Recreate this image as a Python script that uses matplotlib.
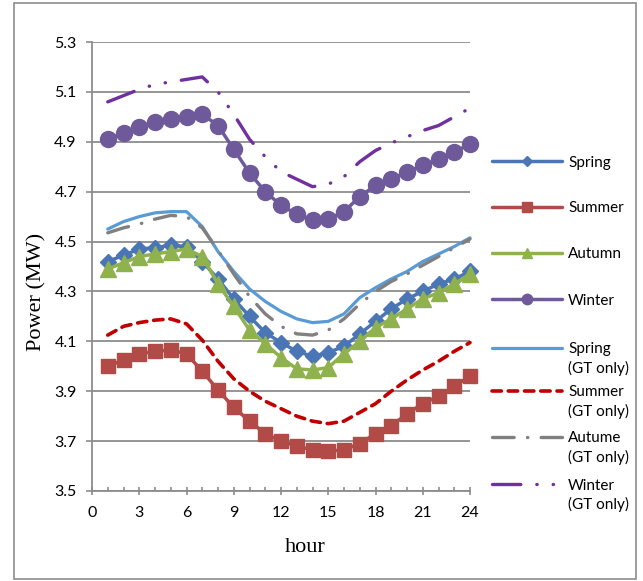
import numpy as np
import matplotlib.pyplot as plt
from matplotlib.lines import Line2D
from matplotlib.patches import Rectangle


#%% Datos
hours = np.arange(1, 25)

spring = [4.42, 4.445, 4.47, 4.475, 4.485, 4.48, 4.42, 4.35, 4.27, 4.20, 4.135, 4.095,
          4.06, 4.04, 4.055, 4.08, 4.13, 4.18, 4.23, 4.27, 4.30, 4.33, 4.35, 4.38]
summer = [4.00, 4.025, 4.05, 4.06, 4.065, 4.05, 3.98, 3.905, 3.835, 3.78, 3.73, 3.70,
          3.68, 3.665, 3.66, 3.665, 3.69, 3.73, 3.76, 3.81, 3.85, 3.88, 3.92, 3.96]
autumn = [4.39, 4.415, 4.44, 4.45, 4.46, 4.47, 4.44, 4.33, 4.24, 4.145, 4.09, 4.035,
          3.99, 3.985, 3.995, 4.05, 4.10, 4.155, 4.19, 4.23, 4.27, 4.295, 4.33, 4.37]
winter = [4.91, 4.935, 4.96, 4.98, 4.99, 5.00, 5.01, 4.965, 4.87, 4.775, 4.70, 4.645,
          4.61, 4.585, 4.59, 4.62, 4.68, 4.725, 4.75, 4.78, 4.805, 4.83, 4.86, 4.89]

spring_gt = [4.55, 4.58, 4.60, 4.615, 4.62, 4.62, 4.56, 4.46, 4.38, 4.31, 4.26, 4.22,
             4.19, 4.175, 4.18, 4.21, 4.275, 4.315, 4.35, 4.38, 4.42, 4.45, 4.48, 4.515]
summer_gt = [4.125, 4.16, 4.175, 4.185, 4.19, 4.17, 4.105, 4.02, 3.95, 3.90, 3.86, 3.83,
             3.80, 3.78, 3.77, 3.78, 3.815, 3.85, 3.90, 3.945, 3.985, 4.02, 4.06, 4.095]
autumn_gt = [4.535, 4.555, 4.57, 4.59, 4.605, 4.60, 4.555, 4.465, 4.37, 4.28, 4.21, 4.16,
             4.13, 4.125, 4.145, 4.19, 4.25, 4.30, 4.34, 4.37, 4.405, 4.44, 4.475, 4.51]
winter_gt = [5.06, 5.085, 5.11, 5.13, 5.14, 5.15, 5.16, 5.10, 5.01, 4.91, 4.84, 4.78,
             4.75, 4.72, 4.73, 4.76, 4.82, 4.865, 4.895, 4.92, 4.945, 4.965, 5.00, 5.035]

x_ticks = list(range(0, 25, 3))
y_ticks = [3.5, 3.7, 3.9, 4.1, 4.3, 4.5, 4.7, 4.9, 5.1, 5.3]


#%% Estilos
W, H = 643, 581
GRIS = "#8C8C8C"
FUENTE = ["Lato", "DejaVu Sans"]
SERIF = ["Liberation Serif", "DejaVu Serif"]

estilos = [
    ("Spring", spring, dict(color="#4A76B5", lw=2.5, marker="D", ms=8.5, mec="#4A76B5")),
    ("Summer", summer, dict(color="#B24A47", lw=2.5, marker="s", ms=10, mec="#B24A47")),
    ("Autumn", autumn, dict(color="#8FB24F", lw=2.5, marker="^", ms=11, mec="#8FB24F")),
    ("Winter", winter, dict(color="#6E5A9A", lw=2.5, marker="o", ms=11.5, mec="#6E5A9A")),
    ("Spring\n(GT only)", spring_gt, dict(color="#5B9BD5", lw=2.3, ls="-")),
    ("Summer\n(GT only)", summer_gt, dict(color="#C00000", lw=2.6, dashes=(2.6, 1.9))),
    ("Autume\n(GT only)", autumn_gt, dict(color="#808080", lw=2.4, dashes=(6.5, 4.0, 0.1, 4.0))),
    ("Winter\n(GT only)", winter_gt, dict(color="#7030A0", lw=2.4, dashes=(8.5, 4.8, 0.1, 4.8, 0.1, 4.8))),
]


#%% Grafico
fig = plt.figure(figsize=(W / 100, H / 100), dpi=100)
ax = fig.add_axes([92 / W, 1 - 491 / H, (470 - 92) / W, (491 - 42) / H])

for nombre, valores, kw in estilos:
    ax.plot(hours, valores, solid_capstyle="round", dash_capstyle="round",
            clip_on=False, **kw)

ax.set_xlim(0, 24)
ax.set_ylim(3.5, 5.3)
ax.set_xticks(x_ticks)
ax.set_xticks(range(0, 25), minor=True)
ax.set_yticks(y_ticks)
ax.set_yticklabels(["{:.1f}".format(v) for v in y_ticks])
ax.grid(axis="y", color=GRIS, lw=1.3)
ax.set_axisbelow(True)
for lado in ["top", "right"]:
    ax.spines[lado].set_visible(False)
for lado in ["left", "bottom"]:
    ax.spines[lado].set_color(GRIS)
    ax.spines[lado].set_linewidth(1.3)
ax.tick_params(axis="x", which="major", direction="inout", length=6, color=GRIS, width=1.2,
               pad=8, labelsize=11.5)
ax.tick_params(axis="x", which="minor", direction="in", length=3, color=GRIS, width=1.2)
ax.tick_params(axis="y", direction="out", length=4, color=GRIS, width=1.2, pad=7,
               labelsize=11.5)
for t in ax.get_xticklabels() + ax.get_yticklabels():
    t.set_family(FUENTE)

fig.text(37 / W, 1 - 292 / H, "Power (MW)", rotation=90, ha="center", va="center",
         fontsize=16, family=SERIF)
fig.text(305 / W, 1 - 548 / H, "hour", ha="center", va="center", fontsize=16, family=SERIF)

# Leyenda
filas = [161, 207, 253, 299, 348, 391, 437, 484]
for (nombre, valores, kw), yp in zip(estilos, filas):
    yf = 1 - yp / H
    kw_l = dict(kw)
    if "marker" in kw_l:
        kw_l["ms"] = kw_l["ms"] * 0.65
        kw_l["markevery"] = [1]
    fig.add_artist(Line2D([492 / W, 527 / W, 562 / W], [yf, yf, yf], transform=fig.transFigure,
                          solid_capstyle="round", dash_capstyle="round", **kw_l))
    for k, linea in enumerate(nombre.split("\n")):
        fig.text(568 / W, 1 - (yp + 19 * k) / H, linea, ha="left", va="center_baseline",
                 fontsize=11, family=FUENTE)

fig.add_artist(Rectangle((14 / W, 2 / H), (636 - 14) / W, (579 - 3) / H, transform=fig.transFigure,
                         fill=False, ec=GRIS, lw=1.2))

fig.savefig("out.png", dpi=100)
